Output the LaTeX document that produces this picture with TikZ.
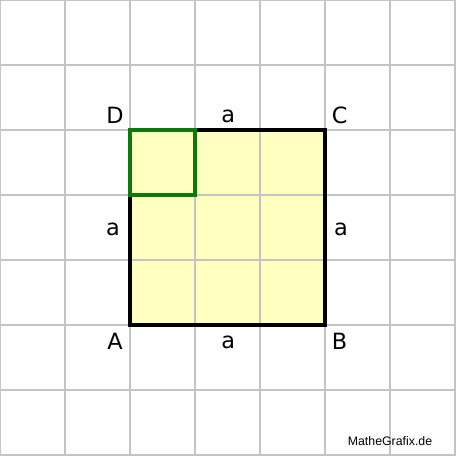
\documentclass[tikz,border=0pt]{standalone}
\usepackage{fontspec}
\setmainfont{DejaVu Sans}
\newfontfamily\logofont{Liberation Sans}
\definecolor{gridgray}{HTML}{C4C4C4}
\definecolor{fillyellow}{HTML}{FFFFC0}
\definecolor{sqgreen}{HTML}{0A7A0A}
\begin{document}
\begin{tikzpicture}[x=1cm,y=1cm,
  lbl/.style={font=\fontsize{9.8}{12}\selectfont, inner sep=0pt},
  gridline/.style={draw=gridgray, line width=0.45pt},
  mainsq/.style={draw=black, line width=1.4pt},
  smallsq/.style={draw=sqgreen, line width=1.4pt}]
\useasboundingbox (0,0) rectangle (7.0154,-7.0154);
\fill[white] (0,0) rectangle (7.0154,-7.0154);
\coordinate (A) at (2,-5);
\coordinate (B) at (5,-5);
\coordinate (C) at (5,-2);
\coordinate (D) at (2,-2);
\coordinate (E) at (3,-3);
\fill[fillyellow] (A) rectangle (C);
\foreach \i in {0,...,7} {
  \draw[gridline] (\i,0.1) -- (\i,-7.1);
  \draw[gridline] (-0.1,-\i) -- (7.1,-\i);
}
\draw[mainsq] (A) -- (B) -- (C) -- (D) -- cycle;
\draw[smallsq] (D) rectangle (E);
\node[lbl] (lD) at (1.77,-1.78) {D};
\node[lbl] (lC) at (5.225,-1.78) {C};
\node[lbl] (lA) at (1.77,-5.246) {A};
\node[lbl] (lB) at (5.225,-5.246) {B};
\node[lbl] (at) at (3.51,-1.785) {a};
\node[lbl] (ab) at (3.51,-5.27) {a};
\node[lbl] (al) at (1.74,-3.53) {a};
\node[lbl] (ar) at (5.246,-3.53) {a};
\node[font=\logofont\fontsize{5.4}{7}\selectfont, inner sep=0pt] (logo) at (6.0,-6.78) {MatheGrafix.de};
\end{tikzpicture}
\end{document}
